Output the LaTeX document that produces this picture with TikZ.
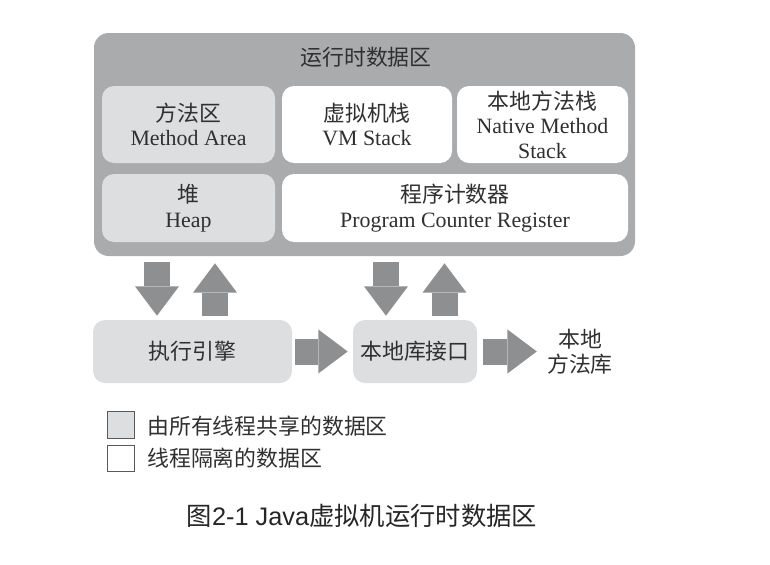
\documentclass[tikz,border=0pt]{standalone}
\usepackage{fontspec}
\setmainfont{Liberation Serif}
\setsansfont{Liberation Sans}
\newfontfamily\cjk{Noto Sans CJK SC}
\usetikzlibrary{arrows.meta,calc}
\definecolor{outergray}{RGB}{169,171,173}
\definecolor{sharedgray}{RGB}{220,222,224}
\definecolor{arrowgray}{RGB}{142,143,145}
\definecolor{textgray}{RGB}{48,48,48}
\definecolor{keyline}{RGB}{90,90,90}

\begin{document}
\begin{tikzpicture}[x=0.75pt,y=0.75pt,yscale=-1,xscale=1,
	area/.style={rounded corners=9pt, inner sep=0pt, align=center, text=textgray, font=\fontsize{16.4}{18.4}\selectfont},
	sharedbox/.style={area, fill=sharedgray},
	ownbox/.style={area, fill=white},
	fatarrow/.style={draw=arrowgray, line width=19.5pt, -{Triangle[width=33pt,length=22pt,line width=0pt]}},
	keybox/.style={draw=keyline, line width=0.8pt, minimum size=20pt, inner sep=0pt}]
	\useasboundingbox (0,0) rectangle (770,564);
	\draw (364.5,144.5) node (data) [area, fill=outergray, rounded corners=11pt, minimum width=405.75pt, minimum height=167.25pt] {};
	\draw (366,57) node (title) [area] {{\cjk 运行时数据区}};
	\draw (188.5,124.5) node (method) [sharedbox, minimum width=129.75pt, minimum height=57.75pt] {{\cjk 方法区}\\Method Area};
	\draw (367,124.5) node (vmstack) [ownbox, minimum width=127.5pt, minimum height=57.75pt] {{\cjk 虚拟机栈}\\VM Stack};
	\draw (542.5,124.5) node (native) [ownbox, minimum width=128.25pt, minimum height=57.75pt] {{\cjk 本地方法栈}\\Native Method\\Stack};
	\draw (188.5,208) node (heap) [sharedbox, minimum width=129.75pt, minimum height=51pt] {{\cjk 堆}\\Heap};
	\draw (455,208) node (pc) [ownbox, minimum width=259.5pt, minimum height=51pt] {{\cjk 程序计数器}\\Program Counter Register};
	\draw (192.5,351.5) node (engine) [sharedbox, minimum width=149.25pt, minimum height=47.25pt] {{\cjk 执行引擎}};
	\draw (415,351.5) node (iface) [sharedbox, minimum width=93pt, minimum height=47.25pt] {{\cjk 本地库接口}};
	\draw (580,351.5) node (lib) [area] {{\cjk 本地}\\{\cjk 方法库}};
	\draw [fatarrow, shorten <=4.5pt, shorten >=3pt] ($(data.south -| engine.north)+(-35.5,0)$) -- ($(engine.north)+(-35.5,0)$);
	\draw [fatarrow, shorten <=3pt, shorten >=5.25pt] ($(engine.north)+(22.5,0)$) -- ($(data.south -| engine.north)+(22.5,0)$);
	\draw [fatarrow, shorten <=4.5pt, shorten >=3pt] ($(data.south -| iface.north)+(-29,0)$) -- ($(iface.north)+(-29,0)$);
	\draw [fatarrow, shorten <=3pt, shorten >=5.25pt] ($(iface.north)+(29.5,0)$) -- ($(data.south -| iface.north)+(29.5,0)$);
	\draw [fatarrow, shorten <=2.25pt, shorten >=3.75pt] (engine.east) -- (iface.west);
	\draw [fatarrow, shorten <=4.5pt, shorten >=7.6pt] (iface.east) -- (lib.west);
	\draw (121,425) node (sharedkey) [keybox, fill=sharedgray] {};
	\draw (121,458.5) node (ownkey) [keybox, fill=white] {};
	\draw (147,426) node (sharedlabel) [area, anchor=west] {{\cjk 由所有线程共享的数据区}};
	\draw (147,458.5) node (ownlabel) [area, anchor=west] {{\cjk 线程隔离的数据区}};
	\draw (362,516) node (caption) [text=black!85, font=\fontsize{19}{22}\selectfont] {{\cjk 图}{\sffamily 2-1 Java}{\cjk 虚拟机运行时数据区}};
\end{tikzpicture}
\end{document}
